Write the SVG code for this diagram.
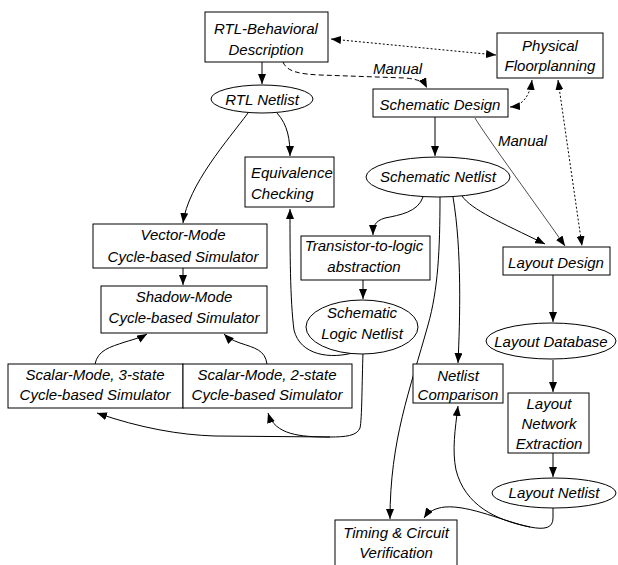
<svg xmlns="http://www.w3.org/2000/svg" width="618" height="565" viewBox="0 0 618 565">
<style>
.n rect, .n ellipse { fill: #fff; stroke: #000; stroke-width: 1; }
text { font-family: "Liberation Sans", Arial, sans-serif; font-style: italic; font-size: 15px; fill: #000; text-anchor: middle; }
.c path { fill: none; stroke: #000; stroke-width: 1; marker-end: url(#ah); }
.c .dot { stroke-dasharray: 2 2; marker-start: url(#ah); }
.c .dash { stroke-dasharray: 5 3; }
.c .thin { stroke-width: 0.7; }
.c .nm { marker-end: none; }
</style>
<defs>
<marker id="ah" viewBox="0 0 10 8" refX="10" refY="4" markerWidth="10" markerHeight="8" markerUnits="userSpaceOnUse" orient="auto-start-reverse">
<path d="M0,0 L10,4 L0,8 z" fill="#000"/>
</marker>
</defs>
<rect width="618" height="565" fill="#fff"/>
<g class="c" id="connectors">
<path d="M262,62 L262,84"/>
<path d="M248,113 C228,140 188,185 183,223"/>
<path d="M277,113 C288,125 290,140 290,156"/>
<path class="dash" d="M283,62 C287,72 300,74 320,75 L405,78 C418,79 424,82 427,88"/>
<path class="dot" d="M331,39 L496,55"/>
<path class="dot" d="M510,107 C522,106 530,96 532,80"/>
<path class="dot" d="M558,80 L582,246"/>
<path d="M435,117 L435,156"/>
<path class="thin" d="M475,118 C485,135 540,210 565,246"/>
<path d="M462,196 C472,210 500,222 545,244"/>
<path d="M423,197 C418,212 400,215 385,218 C375,221 373,226 373,235"/>
<path d="M363,280 L363,299"/>
<path d="M440,197 C440,250 438,290 428,325 C410,390 390,440 390,519"/>
<path d="M453,197 C462,250 460,320 458,363"/>
<path d="M356,352 C330,360 300,355 294,330 C290,300 290,250 290,209"/>
<path d="M363,353 C362,380 362,420 360,428 C357,436 345,437 330,437 L215,436 C180,435 140,428 97,413"/>
<path d="M330,437 C300,437 275,435 268,413"/>
<path d="M95,364 C98,350 110,347 125,342 C135,339 142,337 147,334"/>
<path d="M267,364 C265,350 255,348 240,343 C232,340 228,338 224,334"/>
<path d="M183,268 L183,285"/>
<path d="M553,275 L553,322"/>
<path d="M553,360 L553,392"/>
<path d="M553,453 L553,477"/>
<path d="M553,508 L553,518 C553,528 545,530 530,527 C505,522 470,505 445,507 C435,508 428,512 424,518"/>
<path d="M530,527 C495,520 465,505 456,470 C452,450 455,430 458,406"/>
</g>
<g class="n" id="rtl-behavioral"><rect x="205" y="12" width="123" height="50"/><text x="266" y="34">RTL-Behavioral</text><text x="266" y="55">Description</text></g>
<g class="n" id="physical-floorplanning"><rect x="497" y="33" width="106" height="45"/><text x="550" y="51">Physical</text><text x="550" y="71">Floorplanning</text></g>
<g class="n" id="schematic-design"><rect x="373" y="89" width="135" height="28"/><text x="440" y="110">Schematic Design</text></g>
<g class="n" id="rtl-netlist"><ellipse cx="262" cy="99" rx="51" ry="14"/><text x="262" y="105">RTL Netlist</text></g>
<g class="n" id="equivalence-checking"><rect x="245" y="157" width="89" height="50"/><text x="251" y="178" style="text-anchor:start">Equivalence</text><text x="251" y="199" style="text-anchor:start">Checking</text></g>
<g class="n" id="schematic-netlist"><ellipse cx="438" cy="177" rx="72" ry="20"/><text x="438" y="182">Schematic Netlist</text></g>
<g class="n" id="vector-mode"><rect x="93" y="224" width="174" height="44"/><text x="183" y="240">Vector-Mode</text><text x="183" y="262">Cycle-based Simulator</text></g>
<g class="n" id="shadow-mode"><rect x="101" y="286" width="166" height="47"/><text x="184" y="302">Shadow-Mode</text><text x="184" y="323">Cycle-based Simulator</text></g>
<g class="n" id="transistor-to-logic"><rect x="301" y="236" width="129" height="44"/><text x="364" y="251">Transistor-to-logic</text><text x="364" y="272">abstraction</text></g>
<g class="n" id="schematic-logic-netlist"><ellipse cx="362" cy="327" rx="56" ry="27"/><text x="362" y="318">Schematic</text><text x="362" y="339">Logic Netlist</text></g>
<g class="n" id="scalar-3state"><rect x="8" y="364" width="175" height="44"/><text x="95" y="380">Scalar-Mode, 3-state</text><text x="95" y="400">Cycle-based Simulator</text></g>
<g class="n" id="scalar-2state"><rect x="183" y="364" width="169" height="44"/><text x="267" y="380">Scalar-Mode, 2-state</text><text x="267" y="400">Cycle-based Simulator</text></g>
<g class="n" id="netlist-comparison"><rect x="413" y="364" width="90" height="39"/><text x="458" y="381">Netlist</text><text x="458" y="400">Comparison</text></g>
<g class="n" id="layout-design"><rect x="503" y="247" width="107" height="28"/><text x="556" y="268">Layout Design</text></g>
<g class="n" id="layout-database"><ellipse cx="551" cy="341" rx="65" ry="18"/><text x="551" y="347">Layout Database</text></g>
<g class="n" id="layout-network-extraction"><rect x="508" y="393" width="81" height="60"/><text x="549" y="409">Layout</text><text x="549" y="429">Network</text><text x="549" y="449">Extraction</text></g>
<g class="n" id="layout-netlist"><ellipse cx="554" cy="493" rx="62" ry="15"/><text x="554" y="498">Layout Netlist</text></g>
<g class="n" id="timing-verification"><rect x="335" y="520" width="122" height="55"/><text x="396" y="538">Timing &amp; Circuit</text><text x="396" y="558">Verification</text></g>
<g id="labels"><text x="373" y="74" style="text-anchor:start">Manual</text><text x="498" y="146" style="text-anchor:start">Manual</text></g>
</svg>
